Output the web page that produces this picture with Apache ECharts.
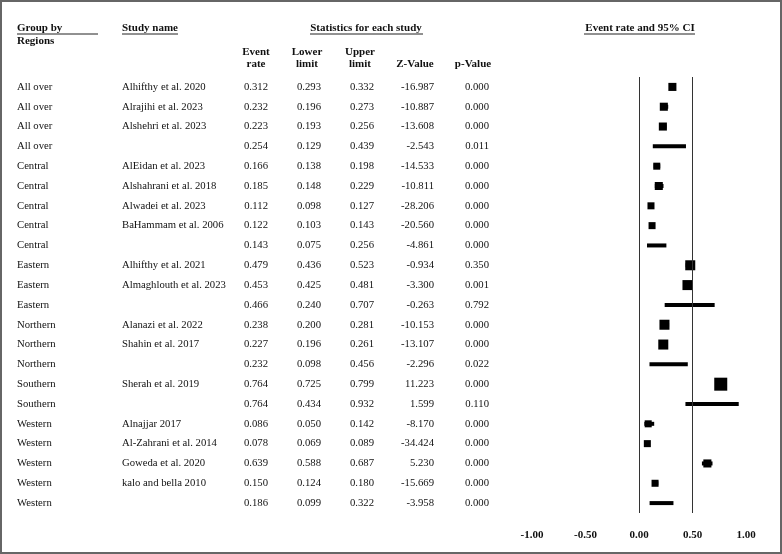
<!DOCTYPE html>
<html>
<head>
<meta charset="utf-8">
<script src="https://cdn.jsdelivr.net/npm/echarts@6/dist/echarts.min.js"></script>
<style>
html,body{margin:0;padding:0;background:#fff;}
#chart{width:782px;height:554px;}
</style>
</head>
<body>
<div id="chart"></div>
<script>
// ---- data ----
const regions = ["All over","All over","All over","All over",
  "Central","Central","Central","Central","Central",
  "Eastern","Eastern","Eastern",
  "Northern","Northern","Northern",
  "Southern","Southern",
  "Western","Western","Western","Western","Western"];
const studies = ["Alhifthy et al. 2020","Alrajihi et al. 2023","Alshehri et al. 2023","",
  "AlEidan et al. 2023","Alshahrani et al. 2018","Alwadei et al. 2023","BaHammam et al. 2006","",
  "Alhifthy et al. 2021","Almaghlouth et al. 2023","",
  "Alanazi et al. 2022","Shahin et al. 2017","",
  "Sherah et al. 2019","",
  "Alnajjar 2017","Al-Zahrani et al. 2014","Goweda et al. 2020","kalo and bella 2010",""];
const eventRate = [0.312,0.232,0.223,0.254,0.166,0.185,0.112,0.122,0.143,0.479,0.453,0.466,0.238,0.227,0.232,0.764,0.764,0.086,0.078,0.639,0.150,0.186];
const lowerLimit = [0.293,0.196,0.193,0.129,0.138,0.148,0.098,0.103,0.075,0.436,0.425,0.240,0.200,0.196,0.098,0.725,0.434,0.050,0.069,0.588,0.124,0.099];
const upperLimit = [0.332,0.273,0.256,0.439,0.198,0.229,0.127,0.143,0.256,0.523,0.481,0.707,0.281,0.261,0.456,0.799,0.932,0.142,0.089,0.687,0.180,0.322];
const zValue = [-16.987,-10.887,-13.608,-2.543,-14.533,-10.811,-28.206,-20.560,-4.861,-0.934,-3.300,-0.263,-10.153,-13.107,-2.296,11.223,1.599,-8.170,-34.424,5.230,-15.669,-3.958];
const pValue = [0.000,0.000,0.000,0.011,0.000,0.000,0.000,0.000,0.000,0.350,0.001,0.792,0.000,0.000,0.022,0.000,0.110,0.000,0.000,0.000,0.000,0.000];
// relative study weight (0 = subgroup summary row)
const studyWeight = [0.62,0.62,0.62,0,0.54,0.62,0.54,0.54,0,0.77,0.77,0,0.77,0.77,0,1.0,0,0.54,0.54,0.62,0.54,0];
const xTicks = [-1, -0.5, 0, 0.5, 1];

// ---- chart ----
const FONT = '"Liberation Serif", "Times New Roman", serif';
const rowIdx = regions.map((_, i) => i);
const chart = echarts.init(document.getElementById('chart'));

const ciData = rowIdx.map(i => [lowerLimit[i], i, upperLimit[i]]);
const sqData = rowIdx.filter(i => studyWeight[i] > 0).map(i => [eventRate[i], i, studyWeight[i]]);
const tableData = rowIdx.map(i => [0, i]);

function txt(text, x, y, align, bold) {
  return {
    type: 'text',
    style: {
      text: text, x: x, y: y,
      textAlign: align, textVerticalAlign: 'middle',
      font: (bold ? 'bold ' : '') + '10.7px ' + FONT,
      fill: '#111'
    }
  };
}

const headerFont = 'bold 11px ' + FONT;
function htxt(text, x, y, align) {
  return { type: 'text', style: { text: text, x: x, y: y, textAlign: align, textVerticalAlign: 'middle', font: headerFont, fill: '#111' } };
}
function hline(x1, x2, y) {
  return { type: 'line', shape: { x1: x1, y1: y, x2: x2, y2: y }, style: { stroke: '#222', lineWidth: 1 } };
}

chart.setOption({
  animation: false,
  backgroundColor: '#fff',
  grid: { left: 532, right: 36, top: 77, bottom: 41 },
  xAxis: {
    type: 'value', min: -1, max: 1, interval: 0.5,
    axisLine: { show: false }, axisTick: { show: false }, splitLine: { show: false },
    axisLabel: {
      margin: 17, color: '#111', fontFamily: FONT, fontWeight: 'bold', fontSize: 11,
      formatter: v => xTicks.includes(v) ? v.toFixed(2) : ''
    }
  },
  yAxis: {
    type: 'category', inverse: true, data: rowIdx,
    show: false
  },
  graphic: [
    { type: 'rect', shape: { x: 1, y: 1, width: 780, height: 552 }, style: { fill: 'none', stroke: '#666', lineWidth: 2 } },
    htxt('Group by', 17, 28, 'left'), hline(17, 98, 34),
    htxt('Regions', 17, 41, 'left'),
    htxt('Study name', 122, 28, 'left'), hline(122, 178, 34),
    htxt('Statistics for each study', 366, 28, 'center'), hline(310, 423, 34),
    htxt('Event rate and 95% CI', 640, 28, 'center'), hline(584, 695, 34),
    htxt('Event', 256, 52, 'center'), htxt('rate', 256, 64, 'center'),
    htxt('Lower', 307, 52, 'center'), htxt('limit', 307, 64, 'center'),
    htxt('Upper', 360, 52, 'center'), htxt('limit', 360, 64, 'center'),
    htxt('Z-Value', 415, 64, 'center'),
    htxt('p-Value', 473, 64, 'center')
  ],
  series: [
    {
      type: 'custom',
      name: 'table',
      clip: false,
      silent: true,
      data: tableData,
      renderItem: function (params, api) {
        const i = api.value(1);
        const y = api.coord([0, i])[1];
        return {
          type: 'group',
          children: [
            txt(regions[i], 17, y, 'left'),
            txt(studies[i], 122, y, 'left'),
            txt(eventRate[i].toFixed(3), 268, y, 'right'),
            txt(lowerLimit[i].toFixed(3), 321, y, 'right'),
            txt(upperLimit[i].toFixed(3), 374, y, 'right'),
            txt(zValue[i].toFixed(3), 434, y, 'right'),
            txt(pValue[i].toFixed(3), 489, y, 'right')
          ]
        };
      }
    },
    {
      type: 'custom',
      name: 'ci',
      clip: false,
      silent: true,
      data: ciData,
      encode: { x: [0, 2], y: 1 },
      renderItem: function (params, api) {
        const i = api.value(1);
        const a = api.coord([api.value(0), i]);
        const b = api.coord([api.value(2), i]);
        return {
          type: 'rect',
          shape: { x: a[0], y: a[1] - 2, width: b[0] - a[0], height: 4 },
          style: { fill: '#000' }
        };
      }
    },
    {
      type: 'scatter',
      name: 'rate',
      silent: true,
      data: sqData,
      symbol: 'rect',
      symbolSize: d => 13 * d[2],
      itemStyle: { color: '#000', opacity: 1 },
      markLine: {
        silent: true,
        symbol: ['none', 'none'],
        label: { show: false },
        lineStyle: { color: '#333', type: 'solid', width: 1 },
        data: [{ xAxis: 0 }, { xAxis: 0.5 }]
      }
    }
  ]
});
</script>
</body>
</html>
